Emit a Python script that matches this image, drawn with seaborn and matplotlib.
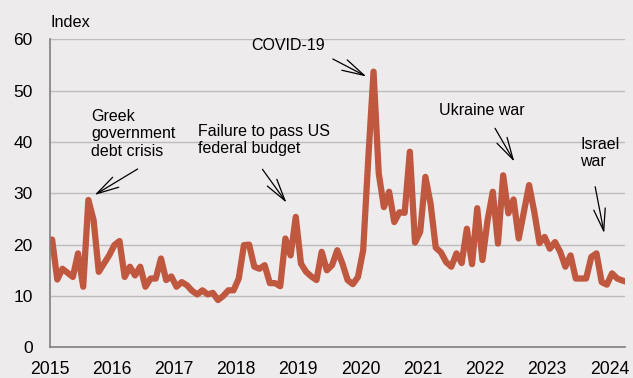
import numpy as np
import pandas as pd
import matplotlib
matplotlib.use("Agg")
import matplotlib.pyplot as plt
import seaborn as sns

# ---- data (monthly index, Jan 2015 - Apr 2024) ----
start_month = "2015-01"
index_values = [
    21.0, 13.2, 15.3, 14.5, 13.7, 18.3, 11.8, 28.7, 24.8, 14.7, 16.3, 17.9,   # 2015
    19.9, 20.7, 13.7, 15.7, 14.0, 15.7, 11.8, 13.4, 13.4, 17.3, 13.1, 13.8,   # 2016
    11.8, 12.7, 12.1, 11.0, 10.3, 11.1, 10.3, 10.6, 9.2, 10.0, 11.1, 11.1,    # 2017
    13.4, 19.9, 20.0, 15.7, 15.3, 16.0, 12.5, 12.5, 11.9, 21.2, 17.9, 25.4,   # 2018
    16.3, 14.7, 13.8, 13.1, 18.6, 15.0, 16.0, 18.9, 16.3, 13.1, 12.3, 13.7,   # 2019
    18.9, 37.0, 53.7, 33.9, 27.3, 30.3, 24.4, 26.3, 26.2, 38.1, 20.4, 22.5,   # 2020
    33.2, 28.0, 19.4, 18.5, 16.6, 15.7, 18.3, 16.4, 23.1, 16.2, 27.1, 17.0,   # 2021
    24.8, 30.3, 20.2, 33.5, 26.1, 28.8, 21.2, 26.4, 31.6, 26.4, 20.3, 21.5,   # 2022
    19.2, 20.5, 18.6, 15.7, 17.9, 13.4, 13.4, 13.4, 17.6, 18.3, 12.7, 12.2,   # 2023
    14.4, 13.4, 13.0, 12.7,                                                   # 2024
]
year_ticks = [2015, 2016, 2017, 2018, 2019, 2020, 2021, 2022, 2023, 2024]
y_ticks = [0, 10, 20, 30, 40, 50, 60]
annotations = [
    ("Greek\ngovernment\ndebt crisis", (91.7, 109), (138, 169), (95, 195)),
    ("Failure to pass US\nfederal budget", (198.3, 124), (262.7, 169.3), (286.7, 202.7)),
    ("COVID-19", (252, 38), (333, 59), (366.5, 76.5)),
    ("Ukraine war", (439, 103), (495, 128.3), (514.3, 161.7)),
    ("Israel\nwar", (580, 137), (595, 186.7), (604, 233.3)),
]

dates = pd.date_range(start_month, periods=len(index_values), freq="MS")
df = pd.DataFrame({
    "t": dates.year + (dates.month - 0.5) / 12.0,
    "Index": index_values,
})

# ---- style ----
sns.set_theme(style="white")
plt.rcParams["font.family"] = ["Liberation Sans", "DejaVu Sans"]
bg = "#EEEBEC"
line_color = "#C0573F"

W, H = 633, 378
fig = plt.figure(figsize=(W / 100, H / 100), dpi=100, facecolor=bg)
ax_left, ax_right, ax_top, ax_bot = 49.5, 625, 39.3, 347.3
ax = fig.add_axes([ax_left / W, (H - ax_bot) / H, (ax_right - ax_left) / W, (ax_bot - ax_top) / H])
ax.set_facecolor(bg)

sns.lineplot(data=df, x="t", y="Index", ax=ax, color=line_color, linewidth=4.5, zorder=3)

ax.set_xlim(2015, 2024.25)
ax.set_ylim(0, 60)
ax.set_xticks(year_ticks)
ax.set_xticklabels([str(y) for y in year_ticks])
ax.set_yticks(y_ticks)
ax.set_yticklabels([str(v) for v in y_ticks])
ax.set_xlabel("")
ax.set_ylabel("")

for v in y_ticks[1:]:
    ax.axhline(v, color="#BDBDBD", linewidth=1.0, zorder=1)

for s in ["top", "right"]:
    ax.spines[s].set_visible(False)
for s in ["left", "bottom"]:
    ax.spines[s].set_color("#808080")
    ax.spines[s].set_linewidth(1.2)
    ax.spines[s].set_zorder(4)

ax.tick_params(axis="x", direction="in", length=3, width=1, color="#808080",
               labelsize=12.7, pad=10, labelcolor="black")
ax.tick_params(axis="y", length=0, labelsize=12.5, pad=12, labelcolor="black")

fig.text(50 / W, 1 - 27 / H, "Index", fontsize=11.7, ha="left", va="baseline", color="black")

def px2data(px, py):
    x = 2015 + (px - 50) / 62.14
    y = (ax_bot - py) / ((ax_bot - ax_top) / 60.0)
    return x, y

for text, tpos, tail, head in annotations:
    tx, ty = px2data(*tpos)
    ax.text(tx, ty, text, fontsize=11.5, ha="left", va="top", color="black",
            linespacing=1.2, zorder=5)
    ax.annotate("", xy=px2data(*head), xytext=px2data(*tail),
                arrowprops=dict(arrowstyle="->,head_length=1.6,head_width=0.42",
                                color="black", lw=0.9, shrinkA=0, shrinkB=0,
                                mutation_scale=10),
                zorder=5)

fig.savefig("out.png", dpi=100, facecolor=bg)
